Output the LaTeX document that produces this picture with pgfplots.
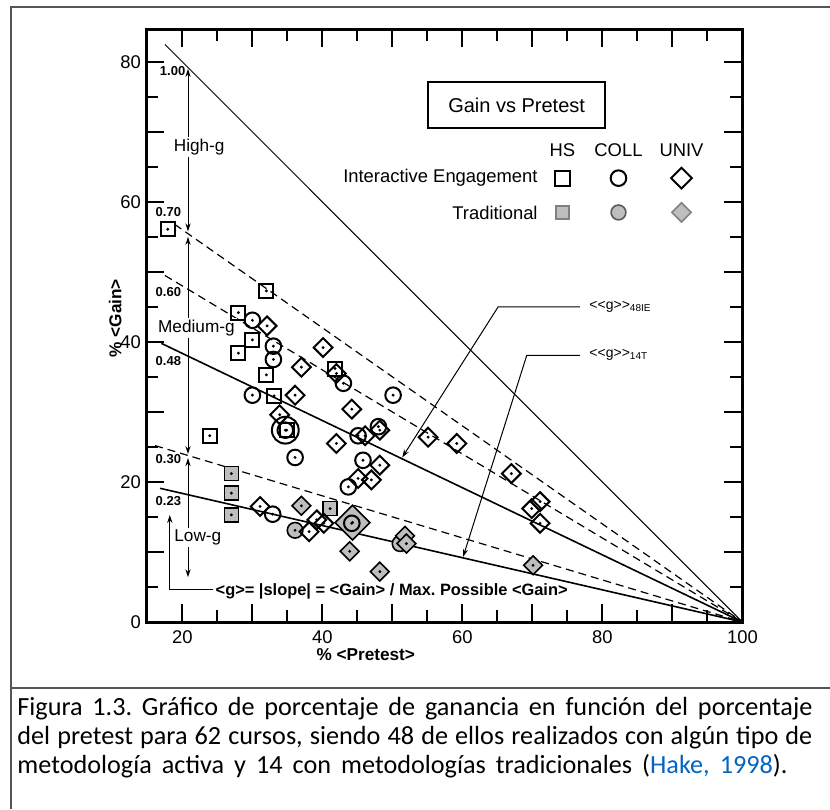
\documentclass[border=0pt]{standalone}
\usepackage{fontspec}
\setmainfont{Liberation Sans}
\newfontfamily\capfont{Carlito}
\usepackage{pgfplots}
\pgfplotsset{compat=1.18}
\usetikzlibrary{arrows.meta}
\definecolor{framegray}{RGB}{85,85,85}
\definecolor{tradgray}{RGB}{190,190,190}
\definecolor{linkblue}{RGB}{5,99,193}

\newcommand{\centerdot}{\pgfscope\pgfsetfillcolor{black}\pgfpathcircle{\pgfpointorigin}{0.8pt}\pgfusepathqfill\endpgfscope}
\pgfdeclareplotmark{osq}{%
  \pgfpathrectangle{\pgfqpoint{-\pgfplotmarksize}{-\pgfplotmarksize}}{\pgfqpoint{2\pgfplotmarksize}{2\pgfplotmarksize}}%
  \pgfusepathqstroke\centerdot}
\pgfdeclareplotmark{fsq}{%
  \pgfpathrectangle{\pgfqpoint{-\pgfplotmarksize}{-\pgfplotmarksize}}{\pgfqpoint{2\pgfplotmarksize}{2\pgfplotmarksize}}%
  \pgfusepathqfillstroke\centerdot}
\pgfdeclareplotmark{ocir}{%
  \pgfpathcircle{\pgfpointorigin}{\pgfplotmarksize}%
  \pgfusepathqstroke\centerdot}
\pgfdeclareplotmark{fcir}{%
  \pgfpathcircle{\pgfpointorigin}{\pgfplotmarksize}%
  \pgfusepathqfillstroke\centerdot}
\newcommand{\diapath}{%
  \pgfpathmoveto{\pgfqpoint{0pt}{\pgfplotmarksize}}%
  \pgfpathlineto{\pgfqpoint{\pgfplotmarksize}{0pt}}%
  \pgfpathlineto{\pgfqpoint{0pt}{-\pgfplotmarksize}}%
  \pgfpathlineto{\pgfqpoint{-\pgfplotmarksize}{0pt}}%
  \pgfpathclose}
\pgfdeclareplotmark{odia}{\diapath\pgfusepathqstroke\centerdot}
\pgfdeclareplotmark{fdia}{\diapath\pgfusepathqfillstroke\centerdot}
\pgfdeclareplotmark{ldia}{\diapath\pgfusepathqfillstroke}

\begin{document}
\frenchspacing
\begin{tikzpicture}
\useasboundingbox (0pt,0pt) rectangle (415pt,-404.5pt);
% frame
\draw[framegray, line width=1pt] (5.5pt,-404.5pt) -- (5.5pt,-3.5pt) -- (415pt,-3.5pt);
\draw[framegray, line width=0.8pt] (5.5pt,-344pt) -- (415pt,-344pt);

\begin{axis}[
  at={(73pt,-311pt)}, anchor=south west,
  scale only axis, width=298.2pt, height=296.5pt,
  xmin=14.8, xmax=100, ymin=0, ymax=84.7,
  clip=false,
  axis line style={line width=1.5pt},
  tick align=inside,
  xtick={20,30,...,100}, xticklabels={20,,40,,60,,80,,100},
  minor xtick={25,35,...,95},
  ytick={0,10,...,80}, yticklabels={0,,20,,40,,60,,80},
  minor ytick={5,15,...,75},
  major tick length=9pt, minor tick length=6pt,
  every tick/.style={black, line width=1pt},
  ticklabel style={font=\fontsize{9.2}{10}\selectfont},
  xticklabel style={yshift=-1pt},
  yticklabel style={xshift=1pt},
]
% g lines
\addplot[black, line width=0.5pt] coordinates {(17.5,82.5) (100,0)};
\addplot[black, line width=0.6pt, dash pattern=on 4pt off 2.5pt] coordinates {(18.9,56.8) (100,0)};
\addplot[black, line width=0.6pt, dash pattern=on 4pt off 2.5pt] coordinates {(17.5,49.5) (100,0)};
\addplot[black, line width=0.8pt] coordinates {(17.0,39.8) (100,0)};
\addplot[black, line width=0.6pt, dash pattern=on 4pt off 2.5pt] coordinates {(16.1,25.2) (100,0)};
\addplot[black, line width=0.8pt] coordinates {(16.8,19.1) (100,0)};

% g labels
\begin{scope}[every node/.style={font=\bfseries\fontsize{6.5}{7}\selectfont, inner sep=0.5pt}]
\node at (axis cs:18.6,78.7) {1.00};
\node at (axis cs:18.0,58.6) {0.70};
\node at (axis cs:18.0,47.1) {0.60};
\node at (axis cs:18.0,37.3) {0.48};
\node at (axis cs:18.0,23.3) {0.30};
\node at (axis cs:18.0,17.3) {0.23};
\end{scope}

% vertical range arrows and pointers
\begin{scope}[line width=0.5pt, >={Stealth[length=4pt,width=2.6pt]}]
\draw[<->] (axis cs:20.8,55.8) -- (axis cs:20.8,79.0);
\draw[<->] (axis cs:20.8,24.0) -- (axis cs:20.8,55.0);
\draw[<->] (axis cs:20.8,6.4) -- (axis cs:20.8,23.4);
\draw[->] (axis cs:24.4,4.6) -- (axis cs:18.2,4.6) -- (axis cs:18.2,15.3);
\draw[->] (axis cs:76.8,45.0) -- (axis cs:65.1,45.0) -- (axis cs:51.4,23.5);
\draw[->] (axis cs:76.8,38.1) -- (axis cs:69.2,38.1) -- (axis cs:60.1,9.3);
\end{scope}

\begin{scope}[every node/.style={font=\fontsize{8.6}{10}\selectfont, fill=white, inner sep=1pt}]
\node at (axis cs:22.4,67.9) {High-g};
\node at (axis cs:22.0,42.0) {Medium-g};
\node at (axis cs:22.2,12.1) {Low-g};
\end{scope}

\node[anchor=west, font=\bfseries\fontsize{8.2}{10}\selectfont, inner sep=0pt] at (axis cs:24.7,4.4) {<g>= |slope| = <Gain> / Max. Possible <Gain>};

\node[anchor=west, font=\fontsize{7}{8}\selectfont, inner sep=0pt] at (axis cs:78.1,45.0) {<{}<g>{}>\textsubscript{48IE}};
\node[anchor=west, font=\fontsize{7}{8}\selectfont, inner sep=0pt] at (axis cs:78.1,38.2) {<{}<g>{}>\textsubscript{14T}};

% legend box
\draw[line width=1pt] (axis cs:55.1,77.1) rectangle (axis cs:80.4,70.6);
\node[font=\fontsize{10}{12}\selectfont] at (axis cs:67.75,73.85) {Gain vs Pretest};
\begin{scope}[every node/.style={font=\fontsize{9.2}{11}\selectfont}]
\node at (axis cs:74.3,67.4) {HS};
\node at (axis cs:82.3,67.4) {COLL};
\node at (axis cs:91.3,67.4) {UNIV};
\node[anchor=east, inner sep=0pt] at (axis cs:70.8,63.4) {Interactive Engagement};
\node[anchor=east, inner sep=0pt] at (axis cs:70.8,58.5) {Traditional};
\end{scope}
% legend marks
\addplot[only marks, mark=square, mark size=3.8pt, mark options={draw=black, line width=1pt}] coordinates {(74.3,63.4)};
\addplot[only marks, mark=o, mark size=3.9pt, mark options={draw=black, line width=1pt}] coordinates {(82.3,63.4)};
\addplot[only marks, mark=ldia, mark size=5.2pt, mark options={draw=black, fill=white, line width=1pt}] coordinates {(91.3,63.4)};
\addplot[only marks, mark=square*, mark size=3.3pt, mark options={draw=gray, fill=tradgray, line width=0.8pt}] coordinates {(74.3,58.5)};
\addplot[only marks, mark=*, mark size=3.7pt, mark options={draw=gray!70!black, fill=tradgray, line width=0.8pt}] coordinates {(82.3,58.5)};
\addplot[only marks, mark=ldia, mark size=4.8pt, mark options={draw=gray, fill=tradgray, line width=0.8pt}] coordinates {(91.3,58.5)};

% ---- Traditional (gray) ----
\addplot[only marks, mark=fdia, mark size=8.7pt, mark options={draw=black, fill=tradgray, line width=0.8pt}] coordinates {(44.3,14.2)};
\addplot[only marks, mark=fsq, mark size=3.5pt, mark options={draw=black, fill=tradgray, line width=0.8pt}] coordinates {
(27.0,21.2) (27.0,18.4) (27.0,15.3) (41.1,16.2)};
\addplot[only marks, mark=fcir, mark size=3.9pt, mark options={draw=black, fill=tradgray, line width=0.8pt}] coordinates {
(36.1,13.1) (51.1,11.2)};
\addplot[only marks, mark=fdia, mark size=4.7pt, mark options={draw=black, fill=tradgray, line width=0.8pt}] coordinates {
(37.0,16.6) (43.9,10.1) (48.2,7.2) (51.8,12.3) (52.0,11.2) (70.1,8.1)};

% ---- Interactive engagement (open) ----
\addplot[only marks, mark=o, mark size=6.7pt, mark options={draw=black, line width=1pt}] coordinates {(34.7,27.4)};
\addplot[only marks, mark=osq, mark size=3.5pt, mark options={draw=black, line width=1pt}] coordinates {
(17.9,56.1) (32.0,47.3) (28.0,44.2) (30.0,40.3) (28.0,38.4) (32.0,35.3)
(33.1,32.3) (34.9,27.4) (23.9,26.6) (41.8,36.2)};
\addplot[only marks, mark=ocir, mark size=3.9pt, mark options={draw=black, line width=1pt}] coordinates {
(30.0,43.1) (33.0,39.4) (33.0,37.5) (30.0,32.4) (34.7,27.4) (36.1,23.5)
(43.0,34.1) (50.1,32.4) (45.1,26.6) (48.0,27.9) (45.8,23.1) (43.7,19.3)
(32.9,15.4) (44.2,14.1)};
\addplot[only marks, mark=odia, mark size=4.7pt, mark options={draw=black, line width=1pt}] coordinates {
(32.1,42.3) (37.0,36.4) (40.1,39.2) (42.0,35.5) (36.1,32.4) (33.9,29.6)
(44.2,30.4) (42.0,25.5) (46.1,26.6) (48.2,27.4) (55.1,26.4) (59.2,25.5)
(48.2,22.4) (47.0,20.3) (45.1,20.5) (31.1,16.5) (39.2,14.6) (40.2,14.1)
(38.1,12.9) (67.0,21.2) (71.1,17.2) (69.9,16.2) (71.1,14.1)};

% axis titles
\node[font=\bfseries\fontsize{8.6}{10}\selectfont] at (axis cs:46.2,-4.6) {\% <Pretest>};
\node[rotate=90, font=\bfseries\fontsize{8.6}{10}\selectfont] at (axis cs:10.4,43.4) {\% <Gain>};
\end{axis}

% caption
\begin{scope}[every node/.style={anchor=base west, inner sep=0pt, font=\capfont\fontsize{13.1}{14.5}\selectfont}]
\node at (8.5pt,-357.5pt) {\makebox[397.5pt][s]{Figura 1.3. Gráfico de porcentaje de ganancia en función del porcentaje}};
\node at (8.5pt,-372pt) {\makebox[397.5pt][s]{del pretest para 62 cursos, siendo 48 de ellos realizados con algún tipo de}};
\node at (8.5pt,-386.5pt) {\makebox[385pt][s]{metodología activa y 14 con metodologías tradicionales (\textcolor{linkblue}{Hake, 1998}).}};
\end{scope}
\end{tikzpicture}
\end{document}
